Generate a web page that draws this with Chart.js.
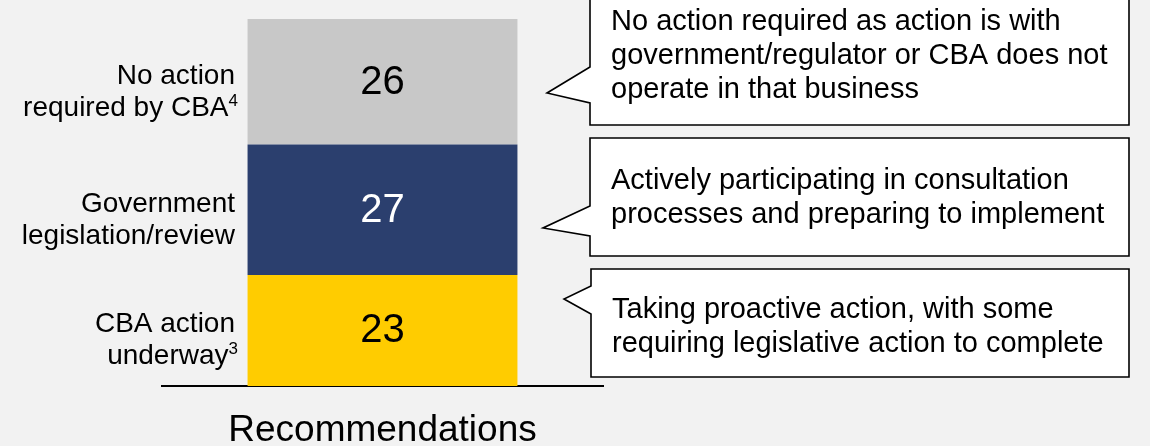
<!DOCTYPE html>
<html>
<head>
<meta charset="utf-8">
<script src="https://cdn.jsdelivr.net/npm/chart.js@4.4.1/dist/chart.umd.min.js"></script>
<style>
  html, body { margin: 0; padding: 0; background: #f2f2f2; overflow: hidden; }
  #wrap { width: 1150px; height: 477px; }
</style>
</head>
<body>
<div id="wrap"><canvas id="c" width="1150" height="477"></canvas></div>
<script>
// ---- data ----
const categories = ['Recommendations'];
const seriesNames = ['CBA action underway', 'Government legislation/review', 'No action required by CBA'];
const values = [23, 27, 26];
const seriesLabelLines = [['CBA action', 'underway'], ['Government', 'legislation/review'], ['No action', 'required by CBA']];
const seriesLabelSup = ['3', '', '4'];
const calloutTexts = [
  ['Taking proactive action, with some', 'requiring legislative action to complete'],
  ['Actively participating in consultation', 'processes and preparing to implement'],
  ['No action required as action is with', 'government/regulator or CBA does not', 'operate in that business']
];

// ---- styles ----
const FONT = "'Liberation Sans', Arial, Helvetica, sans-serif";
const colors = ['#ffcc00', '#2b3f6e', '#c8c8c8'];
const valueColors = ['#000000', '#ffffff', '#000000'];

// callout geometry (annotation boxes)
const callouts = [
  { top: 269, bottom: 377, left: 591, right: 1129, tipX: 564, tipY: 299, b1: 286, b2: 314, base: [318, 352] },
  { top: 138, bottom: 256, left: 590, right: 1129, tipX: 543, tipY: 228, b1: 206, b2: 236, base: [189, 223] },
  { top: -3, bottom: 125, left: 590, right: 1129, tipX: 547, tipY: 93, b1: 67, b2: 103, base: [30, 64, 98] }
];

const overlay = {
  id: 'overlay',
  afterDatasetsDraw(chart) {
    const ctx = chart.ctx;
    ctx.save();
    chart.data.datasets.forEach((ds, i) => {
      const el = chart.getDatasetMeta(i).data[0];
      const cy = (el.y + el.base) / 2;
      // value
      ctx.font = '40px ' + FONT;
      ctx.fillStyle = valueColors[i];
      ctx.textAlign = 'center';
      ctx.textBaseline = 'middle';
      ctx.fillText(String(ds.data[0]), el.x, cy + 1);
      // left label
      const rightX = chart.chartArea.left + 75;
      const lines = seriesLabelLines[i];
      const sup = seriesLabelSup[i];
      ctx.fillStyle = '#000';
      ctx.textBaseline = 'alphabetic';
      lines.forEach((ln, k) => {
        const by = cy + 2 + k * 32;
        const isLast = k === lines.length - 1;
        if (isLast && sup) {
          ctx.font = '17px ' + FONT;
          const sw = ctx.measureText(sup).width;
          ctx.textAlign = 'right';
          ctx.fillText(sup, rightX + 1, by - 10);
          ctx.font = '28px ' + FONT;
          ctx.fillText(ln, rightX + 1 - sw, by);
        } else {
          ctx.font = '28px ' + FONT;
          ctx.textAlign = 'right';
          ctx.fillText(ln, rightX - 2, by);
        }
      });
    });
    ctx.restore();
  },
  afterDraw(chart) {
    const ctx = chart.ctx;
    ctx.save();
    callouts.forEach((c, i) => {
      ctx.beginPath();
      ctx.moveTo(c.left, c.top);
      ctx.lineTo(c.right, c.top);
      ctx.lineTo(c.right, c.bottom);
      ctx.lineTo(c.left, c.bottom);
      ctx.lineTo(c.left, c.b2);
      ctx.lineTo(c.tipX, c.tipY);
      ctx.lineTo(c.left, c.b1);
      ctx.closePath();
      ctx.fillStyle = '#ffffff';
      ctx.fill();
      ctx.lineWidth = 1.6;
      ctx.strokeStyle = '#000000';
      ctx.lineJoin = 'miter';
      ctx.stroke();
      ctx.fillStyle = '#000';
      ctx.font = '29px ' + FONT;
      ctx.textAlign = 'left';
      ctx.textBaseline = 'alphabetic';
      calloutTexts[i].forEach((t, k) => ctx.fillText(t, c.left + 21, c.base[k]));
    });
    ctx.restore();
  }
};

new Chart(document.getElementById('c'), {
  type: 'bar',
  data: {
    labels: categories,
    datasets: values.map((v, i) => ({
      label: seriesNames[i],
      data: [v],
      backgroundColor: colors[i],
      borderWidth: 0,
      categoryPercentage: 1.0,
      barPercentage: 0.612
    }))
  },
  options: {
    responsive: false,
    devicePixelRatio: 1,
    animation: false,
    layout: { padding: { left: 162, right: 547, top: 19, bottom: 2 } },
    plugins: { legend: { display: false }, tooltip: { enabled: false } },
    scales: {
      x: {
        stacked: true,
        grid: { display: false, drawTicks: false },
        border: { display: true, color: '#000000', width: 2 },
        ticks: { color: '#000000', padding: 26, font: { family: FONT, size: 37, lineHeight: 1.0 } }
      },
      y: {
        stacked: true,
        display: false,
        min: 0,
        max: values.reduce((a, b) => a + b, 0)
      }
    }
  },
  plugins: [overlay]
});
</script>
</body>
</html>
